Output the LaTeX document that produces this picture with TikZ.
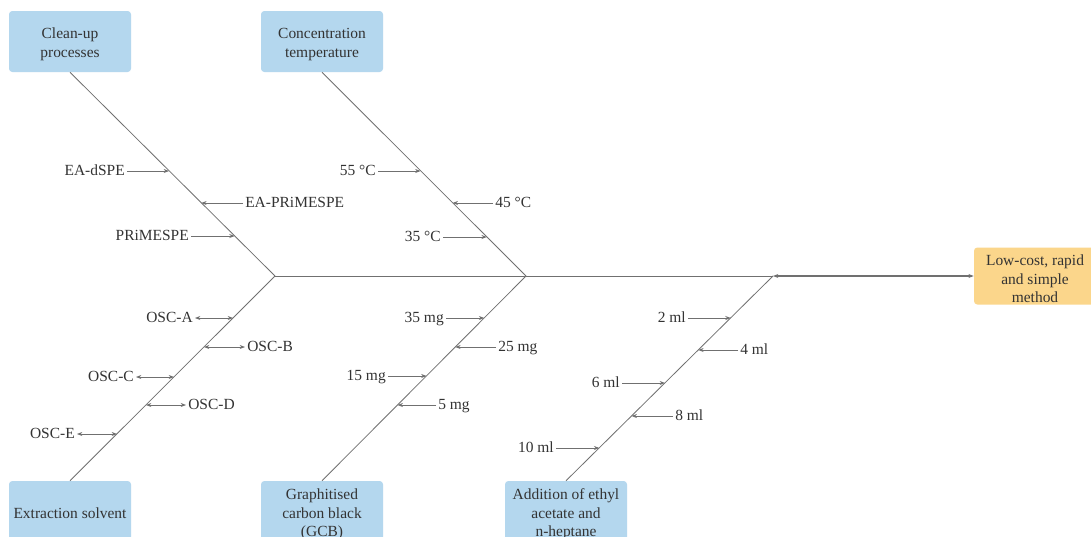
\documentclass[tikz,border=0pt]{standalone}
\usepackage{fontspec}
\setmainfont{Liberation Serif}
\usetikzlibrary{arrows.meta}
\definecolor{boxblue}{HTML}{B4D7EE}
\definecolor{boxorange}{HTML}{FBD68B}
\definecolor{linegray}{HTML}{707070}
\definecolor{txtgray}{HTML}{333333}
\newcommand{\toppad}{\rule{0pt}{12.5pt}}
\tikzset{
  basefont/.style={font=\fontsize{11.6}{13.8}\selectfont, text=txtgray},
  cause/.style={basefont, fill=boxblue, rounded corners=2.5pt, minimum width=91.5pt, minimum height=45.75pt, align=center, inner sep=1pt},
  effect/.style={basefont, fill=boxorange, rounded corners=2.5pt, minimum width=91.5pt, minimum height=42.75pt, align=center, inner sep=1pt},
  bone/.style={draw=linegray, line width=0.6pt},
  lbl/.style={basefont, inner sep=1.5pt, text height=1.75ex, text depth=0.3ex},
  tip/.style={draw=linegray, line width=0.5pt, -{Stealth[length=4pt,width=3pt]}},
  dtip/.style={draw=linegray, line width=0.5pt, {Stealth[length=4pt,width=3pt]}-{Stealth[length=4pt,width=3pt]}},
}
\begin{document}
\begin{tikzpicture}[x=0.75pt,y=-0.75pt]
\clip (0,0) rectangle (1091,536);
\fill[white] (0,0) rectangle (1091,536);

% boxes
\node[cause] (cp) at (70,41.5) {\toppad Clean-up\\processes};
\node[cause] (ct) at (322,41.5) {\toppad Concentration\\temperature};
\node[cause] (es) at (70,511.5) {\rule{0pt}{10pt}Extraction solvent};
\node[cause] (gcb) at (322,511.5) {\toppad Graphitised\\carbon black\\(GCB)};
\node[cause] (ad) at (566,511.5) {\toppad Addition of ethyl\\acetate and\\n-heptane};
\node[effect] (lc) at (1035,276) {\toppad Low-cost, rapid\\and simple\\method};

% spine junctions
\coordinate (j1) at (275,276);
\coordinate (j2) at (526,276);
\coordinate (j3) at (773,276);

\draw[bone] (j1) -- (j3);
\draw[draw=linegray, line width=0.9pt, {Stealth[length=4pt,width=3pt]}-{Stealth[length=4pt,width=3pt]}] (j3) -- (lc.west);

% bones
\draw[bone] (cp.south) -- (j1);
\draw[bone] (ct.south) -- (j2);
\draw[bone] (es.north) -- (j1);
\draw[bone] (gcb.north) -- (j2);
\draw[bone] (ad.north) -- (j3);

% Clean-up processes
\coordinate (a1) at (169,171);
\coordinate (a2) at (201.3,203);
\coordinate (a3) at (234.6,236);
\node[lbl, anchor=east] (la1) at (127,171) {EA-dSPE};
\node[lbl, anchor=west] (la2) at (243,203) {EA-PRiMESPE};
\node[lbl, anchor=east] (la3) at (191,236) {PRiMESPE};
\draw[tip] (la1.east) -- (a1);
\draw[tip] (la2.west) -- (a2);
\draw[tip] (la3.east) -- (a3);

% Concentration temperature
\coordinate (b1) at (420.5,171);
\coordinate (b2) at (452.6,203);
\coordinate (b3) at (486.8,237);
\node[lbl, anchor=east] (lb1) at (378,171) {55 °C};
\node[lbl, anchor=west] (lb2) at (493,203) {45 °C};
\node[lbl, anchor=east] (lb3) at (443,237) {35 °C};
\draw[tip] (lb1.east) -- (b1);
\draw[tip] (lb2.west) -- (b2);
\draw[tip] (lb3.east) -- (b3);

% Extraction solvent
\coordinate (c1) at (233,318);
\coordinate (c2) at (204,347);
\coordinate (c3) at (174,377);
\coordinate (c4) at (146,405);
\coordinate (c5) at (117,434);
\node[lbl, anchor=east] (lc1) at (195,318) {OSC-A};
\node[lbl, anchor=west] (lc2) at (245,347) {OSC-B};
\node[lbl, anchor=east] (lc3) at (136,377) {OSC-C};
\node[lbl, anchor=west] (lc4) at (186,405) {OSC-D};
\node[lbl, anchor=east] (lc5) at (77,434) {OSC-E};
\draw[dtip] (lc1.east) -- (c1);
\draw[dtip] (lc2.west) -- (c2);
\draw[dtip] (lc3.east) -- (c3);
\draw[dtip] (lc4.west) -- (c4);
\draw[dtip] (lc5.east) -- (c5);

% GCB
\coordinate (d1) at (484.2,318);
\coordinate (d2) at (455.3,347);
\coordinate (d3) at (426.5,376);
\coordinate (d4) at (397.6,405);
\node[lbl, anchor=east] (ld1) at (446,318) {35 mg};
\node[lbl, anchor=west] (ld2) at (496,347) {25 mg};
\node[lbl, anchor=east] (ld3) at (388,376) {15 mg};
\node[lbl, anchor=west] (ld4) at (436,405) {5 mg};
\draw[tip] (ld1.east) -- (d1);
\draw[tip] (ld2.west) -- (d2);
\draw[tip] (ld3.east) -- (d3);
\draw[tip] (ld4.west) -- (d4);

% Addition of ethyl acetate and n-heptane
\coordinate (e1) at (730.6,318);
\coordinate (e2) at (698.3,350);
\coordinate (e3) at (665,383);
\coordinate (e4) at (631.6,416);
\coordinate (e5) at (599.3,448);
\node[lbl, anchor=east] (le1) at (688,318) {2 ml};
\node[lbl, anchor=west] (le2) at (738,350) {4 ml};
\node[lbl, anchor=east] (le3) at (622,383) {6 ml};
\node[lbl, anchor=west] (le4) at (673,416) {8 ml};
\node[lbl, anchor=east] (le5) at (556,448) {10 ml};
\draw[tip] (le1.east) -- (e1);
\draw[tip] (le2.west) -- (e2);
\draw[tip] (le3.east) -- (e3);
\draw[tip] (le4.west) -- (e4);
\draw[tip] (le5.east) -- (e5);
\end{tikzpicture}
\end{document}
